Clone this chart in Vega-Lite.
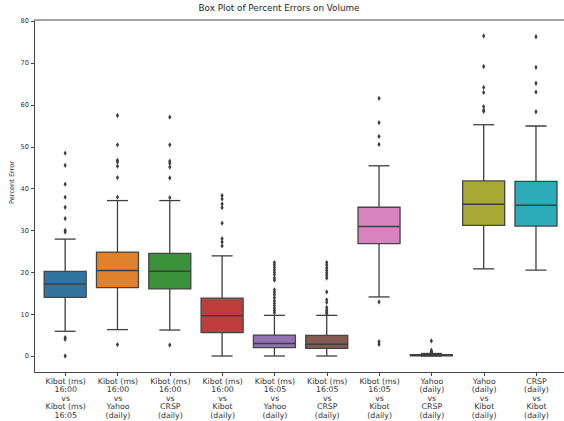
{
  "$schema": "https://vega.github.io/schema/vega-lite/v6.json",
  "width": 530,
  "height": 352,
  "autosize": {"type": "none"},
  "padding": {"left": 34, "top": 20, "right": 0, "bottom": 49},
  "background": "white",
  "title": {"text": "Box Plot of Percent Errors on Volume", "fontSize": 8.8, "font": "DejaVu Sans", "fontWeight": "normal", "color": "#262626", "anchor": "middle", "dx": -20, "offset": 5},
  "config": {
    "view": {"stroke": null},
    "font": "DejaVu Sans",
    "axis": {"grid": false, "domainColor": "#444", "tickColor": "#444", "labelColor": "#333", "titleColor": "#333", "labelFont": "DejaVu Sans", "titleFont": "DejaVu Sans", "titleFontWeight": "normal"}
  },
  "datasets": {
    "boxes": [
      {"idx": 0, "pair": "Kibot (ms) 16:00 vs Kibot (ms) 16:05", "lo": 5.9, "q1": 14.0, "med": 17.2, "q3": 20.2, "hi": 27.9},
      {"idx": 1, "pair": "Kibot (ms) 16:00 vs Yahoo (daily)", "lo": 6.3, "q1": 16.3, "med": 20.4, "q3": 24.8, "hi": 37.1},
      {"idx": 2, "pair": "Kibot (ms) 16:00 vs CRSP (daily)", "lo": 6.2, "q1": 16.0, "med": 20.2, "q3": 24.5, "hi": 37.1},
      {"idx": 3, "pair": "Kibot (ms) 16:00 vs Kibot (daily)", "lo": 0.0, "q1": 5.6, "med": 9.6, "q3": 13.8, "hi": 23.9},
      {"idx": 4, "pair": "Kibot (ms) 16:05 vs Yahoo (daily)", "lo": 0.0, "q1": 2.0, "med": 3.0, "q3": 5.0, "hi": 9.7},
      {"idx": 5, "pair": "Kibot (ms) 16:05 vs CRSP (daily)", "lo": 0.0, "q1": 1.8, "med": 2.8, "q3": 4.9, "hi": 9.7},
      {"idx": 6, "pair": "Kibot (ms) 16:05 vs Kibot (daily)", "lo": 14.1, "q1": 26.8, "med": 30.9, "q3": 35.5, "hi": 45.4},
      {"idx": 7, "pair": "Yahoo (daily) vs CRSP (daily)", "lo": 0.0, "q1": 0.05, "med": 0.15, "q3": 0.3, "hi": 0.6},
      {"idx": 8, "pair": "Yahoo (daily) vs Kibot (daily)", "lo": 20.8, "q1": 31.2, "med": 36.2, "q3": 41.8, "hi": 55.2},
      {"idx": 9, "pair": "CRSP (daily) vs Kibot (daily)", "lo": 20.5, "q1": 31.0, "med": 36.0, "q3": 41.7, "hi": 54.9}
    ],
    "outliers": [
      {"idx": 0, "value": 48.4}, {"idx": 0, "value": 45.5}, {"idx": 0, "value": 41.0}, {"idx": 0, "value": 37.9}, {"idx": 0, "value": 35.5}, {"idx": 0, "value": 32.8}, {"idx": 0, "value": 30.0}, {"idx": 0, "value": 29.6}, {"idx": 0, "value": 4.4}, {"idx": 0, "value": 4.0}, {"idx": 0, "value": 0.0},
      {"idx": 1, "value": 57.4}, {"idx": 1, "value": 50.4}, {"idx": 1, "value": 46.7}, {"idx": 1, "value": 46.3}, {"idx": 1, "value": 45.3}, {"idx": 1, "value": 42.6}, {"idx": 1, "value": 37.9}, {"idx": 1, "value": 2.7},
      {"idx": 2, "value": 57.0}, {"idx": 2, "value": 50.4}, {"idx": 2, "value": 46.5}, {"idx": 2, "value": 46.0}, {"idx": 2, "value": 45.1}, {"idx": 2, "value": 42.5}, {"idx": 2, "value": 37.8}, {"idx": 2, "value": 2.6},
      {"idx": 3, "value": 38.3}, {"idx": 3, "value": 37.5}, {"idx": 3, "value": 36.3}, {"idx": 3, "value": 35.4}, {"idx": 3, "value": 31.7}, {"idx": 3, "value": 28.0}, {"idx": 3, "value": 27.2}, {"idx": 3, "value": 26.3},
      {"idx": 4, "value": 22.3}, {"idx": 4, "value": 21.8}, {"idx": 4, "value": 21.2}, {"idx": 4, "value": 20.6}, {"idx": 4, "value": 20.0}, {"idx": 4, "value": 19.4}, {"idx": 4, "value": 18.6}, {"idx": 4, "value": 18.1}, {"idx": 4, "value": 15.8}, {"idx": 4, "value": 15.2}, {"idx": 4, "value": 14.6}, {"idx": 4, "value": 13.9}, {"idx": 4, "value": 13.2}, {"idx": 4, "value": 12.6}, {"idx": 4, "value": 12.0}, {"idx": 4, "value": 11.4}, {"idx": 4, "value": 10.8}, {"idx": 4, "value": 10.3},
      {"idx": 5, "value": 22.3}, {"idx": 5, "value": 21.7}, {"idx": 5, "value": 21.0}, {"idx": 5, "value": 20.4}, {"idx": 5, "value": 19.8}, {"idx": 5, "value": 19.2}, {"idx": 5, "value": 18.6}, {"idx": 5, "value": 15.3}, {"idx": 5, "value": 13.4}, {"idx": 5, "value": 12.8}, {"idx": 5, "value": 11.6}, {"idx": 5, "value": 11.0}, {"idx": 5, "value": 10.5}, {"idx": 5, "value": 10.1},
      {"idx": 6, "value": 61.5}, {"idx": 6, "value": 55.7}, {"idx": 6, "value": 52.4}, {"idx": 6, "value": 50.5}, {"idx": 6, "value": 12.9}, {"idx": 6, "value": 3.4}, {"idx": 6, "value": 2.8},
      {"idx": 7, "value": 3.6}, {"idx": 7, "value": 1.4}, {"idx": 7, "value": 1.1}, {"idx": 7, "value": 0.9}, {"idx": 7, "value": 0.8}, {"idx": 7, "value": 0.7},
      {"idx": 8, "value": 76.4}, {"idx": 8, "value": 69.1}, {"idx": 8, "value": 64.1}, {"idx": 8, "value": 62.9}, {"idx": 8, "value": 59.5}, {"idx": 8, "value": 58.7}, {"idx": 8, "value": 58.4},
      {"idx": 9, "value": 76.2}, {"idx": 9, "value": 68.9}, {"idx": 9, "value": 65.1}, {"idx": 9, "value": 63.0}, {"idx": 9, "value": 58.3}
    ]
  },
  "encoding": {
    "x": {"field": "idx", "type": "quantitative", "scale": {"domain": [-0.5, 9.44], "nice": false, "zero": false},
      "axis": {"orient": "bottom", "values": [0, 1, 2, 3, 4, 5, 6, 7, 8, 9], "title": null, "tickSize": 3.5, "labelFontSize": 7.8, "labelLineHeight": 8.4, "labelPadding": 2, "labelFlush": false, "labelOverlap": false, "labelBound": false, "labelAlign": "center", "labelBaseline": "top",
        "labelExpr": "[['Kibot (ms)','16:00','vs','Kibot (ms)','16:05'],['Kibot (ms)','16:00','vs','Yahoo','(daily)'],['Kibot (ms)','16:00','vs','CRSP','(daily)'],['Kibot (ms)','16:00','vs','Kibot','(daily)'],['Kibot (ms)','16:05','vs','Yahoo','(daily)'],['Kibot (ms)','16:05','vs','CRSP','(daily)'],['Kibot (ms)','16:05','vs','Kibot','(daily)'],['Yahoo','(daily)','vs','CRSP','(daily)'],['Yahoo','(daily)','vs','Kibot','(daily)'],['CRSP','(daily)','vs','Kibot','(daily)']][datum.value]"}}
  },
  "layer": [
    {
      "data": {"name": "boxes"},
      "mark": {"type": "rule", "color": "#3f3f3f", "strokeWidth": 1.3},
      "encoding": {
        "y": {"field": "lo", "type": "quantitative", "scale": {"domain": [-3.82, 80.2], "nice": false, "zero": false},
          "axis": {"values": [0, 10, 20, 30, 40, 50, 60, 70, 80], "labelFontSize": 6.6, "tickSize": 3.5, "labelPadding": 2, "title": "Percent Error", "titleFontSize": 6.6, "titleX": -23, "titleY": 162, "titleAngle": -90, "titleAlign": "center", "titleBaseline": "middle"}},
        "y2": {"field": "hi"}
      }
    },
    {
      "data": {"name": "boxes"},
      "mark": {"type": "bar", "size": 42, "stroke": "#444", "strokeWidth": 1.3},
      "encoding": {
        "y": {"field": "q1", "type": "quantitative"},
        "y2": {"field": "q3"},
        "color": {"field": "idx", "type": "nominal", "legend": null,
          "scale": {"domain": [0, 1, 2, 3, 4, 5, 6, 7, 8, 9], "range": ["#3274a1", "#e1812c", "#3a923a", "#c03d3e", "#9372b2", "#845b53", "#d684bd", "#7f7f7f", "#a9aa35", "#2eabb8"]}}
      }
    },
    {
      "data": {"name": "boxes"},
      "mark": {"type": "tick", "orient": "horizontal", "size": 42, "thickness": 1.5, "color": "#3f3f3f", "opacity": 1},
      "encoding": {
        "y": {"field": "med", "type": "quantitative"}
      }
    },
    {
      "data": {"name": "boxes"},
      "mark": {"type": "tick", "orient": "horizontal", "size": 21, "thickness": 1.3, "color": "#3f3f3f", "opacity": 1},
      "encoding": {
        "y": {"field": "lo", "type": "quantitative"}
      }
    },
    {
      "data": {"name": "boxes"},
      "mark": {"type": "tick", "orient": "horizontal", "size": 21, "thickness": 1.3, "color": "#3f3f3f", "opacity": 1},
      "encoding": {
        "y": {"field": "hi", "type": "quantitative"}
      }
    },
    {
      "data": {"name": "outliers"},
      "mark": {"type": "point", "filled": true, "shape": "M0,-1L0.6,0L0,1L-0.6,0Z", "size": 28, "color": "#3f3f3f", "opacity": 1},
      "encoding": {
        "y": {"field": "value", "type": "quantitative"}
      }
    },
    {
      "data": {"values": [{}]},
      "mark": {"type": "rule", "color": "#444", "strokeWidth": 1},
      "encoding": {
        "x": null,
        "y": {"datum": 80.2, "type": "quantitative"}
      }
    }
  ]
}
